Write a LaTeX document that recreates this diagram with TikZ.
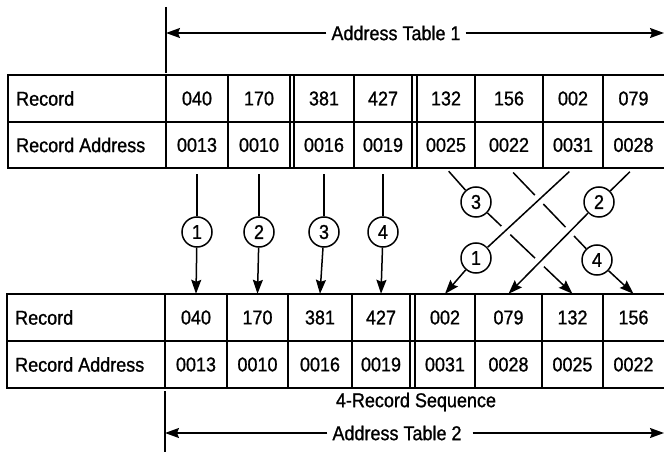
\documentclass[tikz,border=0pt]{standalone}
\usepackage{fontspec}
\setmainfont{Liberation Sans}[FakeStretch=0.9,FakeBold=1]
\usetikzlibrary{arrows.meta}
\begin{document}
\begin{tikzpicture}[x=1pt,y=-1pt,
  cell/.style={inner sep=0pt,font=\fontsize{20}{23}\selectfont},
  title/.style={inner xsep=5pt,inner ysep=0pt,font=\fontsize{20}{23}\selectfont},
  num/.style={circle,draw,line width=1.5pt,fill=white,minimum size=30pt,inner sep=0pt,font=\fontsize{20}{23}\selectfont},
  link/.style={line width=1.5pt},
  tip/.style={-{Stealth[length=14pt,width=10pt,inset=2pt]}},
  over/.style={preaction={draw=white,line width=12pt,-}}]
\useasboundingbox (0,0) rectangle (664,454);
% top table texts
\node[cell,anchor=west] (trec) at (16,98.5) {Record};
\node[cell,anchor=west] (tadr) at (16,145) {Record Address};
\foreach \rc/\ad/\xl/\xr in {040/0013/166/228,170/0010/228/290,381/0016/294/354,427/0019/354/412,132/0025/417/475,156/0022/475/543,002/0031/543/603,079/0028/603/664}{
  \node[cell] (t\rc) at ({(\xl+\xr)/2},98.5) {\rc};
  \node[cell,minimum height=46pt] (ta\rc) at ({(\xl+\xr)/2},145) {\ad};
}
% bottom table texts
\node[cell,anchor=west] (brec) at (15,317.5) {Record};
\node[cell,anchor=west] (badr) at (15,364.5) {Record Address};
\foreach \rc/\ad/\xl/\xr in {040/0013/165/227,170/0010/227/288,381/0016/288/352,427/0019/352/410,002/0031/415/475,079/0028/475/542,132/0025/542/603,156/0022/603/664}{
  \node[cell,minimum height=47pt] (b\rc) at ({(\xl+\xr)/2},317.5) {\rc};
  \node[cell] (ba\rc) at ({(\xl+\xr)/2},364.5) {\ad};
}
% straight moves
\foreach \rc/\n in {040/1,170/2,381/3,427/4}{
  \node[num] (s\n) at (t\rc |- 0,232) {\n};
  \draw[link,shorten <=6pt] (ta\rc.south) -- (s\n);
  \draw[link,tip] (s\n) -- (b\rc.north);
}
% crossed moves
\node[num] (x3) at (476,202) {3};
\node[num] (x2) at (599,202) {2};
\node[num] (x1) at (476,258) {1};
\node[num] (x4) at (597,260) {4};
\draw[link,shorten <=4pt] (ta132.south) -- (x3);
\draw[link,tip] (x3) -- (b132.north);
\draw[link,shorten <=6pt] (ta156.south) -- (x4);
\draw[link,tip] (x4) -- (b156.north);
\draw[link,over,shorten <=5pt] (ta002.south) -- (x1);
\draw[link,tip] (x1) -- (b002.north);
\draw[link,shorten <=5pt] (ta079.south) -- (x2);
\draw[link,over,tip] (x2) -- (b079.north);
% table rules
\draw[line width=2.5pt] (664,75) -- (8,75) -- (8,168) -- (664,168);
\draw[line width=1.5pt] (8,122) -- (664,122);
\foreach \x in {166,228,290,294,354,412,417,475,543,603} \draw[line width=1.5pt] (\x,75) -- (\x,168);
\draw[line width=2.5pt] (664,294) -- (7,294) -- (7,388) -- (664,388);
\draw[line width=1.5pt] (7,341) -- (664,341);
\foreach \x in {165,227,288,352,410,415,475,542,603} \draw[line width=1.5pt] (\x,294) -- (\x,388);
% address table spans
\draw[line width=1.5pt] (166,7) -- (166,73);
\draw[line width=1.5pt] (165,391) -- (165,452);
\coordinate (bar1) at (166,33);
\coordinate (end1) at (664,33);
\coordinate (bar2) at (165,433);
\coordinate (end2) at (664,433);
\node[title] (at1) at (396,33) {Address Table 1};
\node[title] (at2) at (397,433) {Address Table 2};
\node[cell] (seq) at (416,402) {4-Record Sequence};
\draw[link,tip] (at1.west) -- (bar1);
\draw[link,tip] (at1.east) -- (end1);
\draw[link,tip] (at2.west) -- (bar2);
\draw[link,tip] ([xshift=6pt]at2.east) -- (end2);
\end{tikzpicture}
\end{document}
